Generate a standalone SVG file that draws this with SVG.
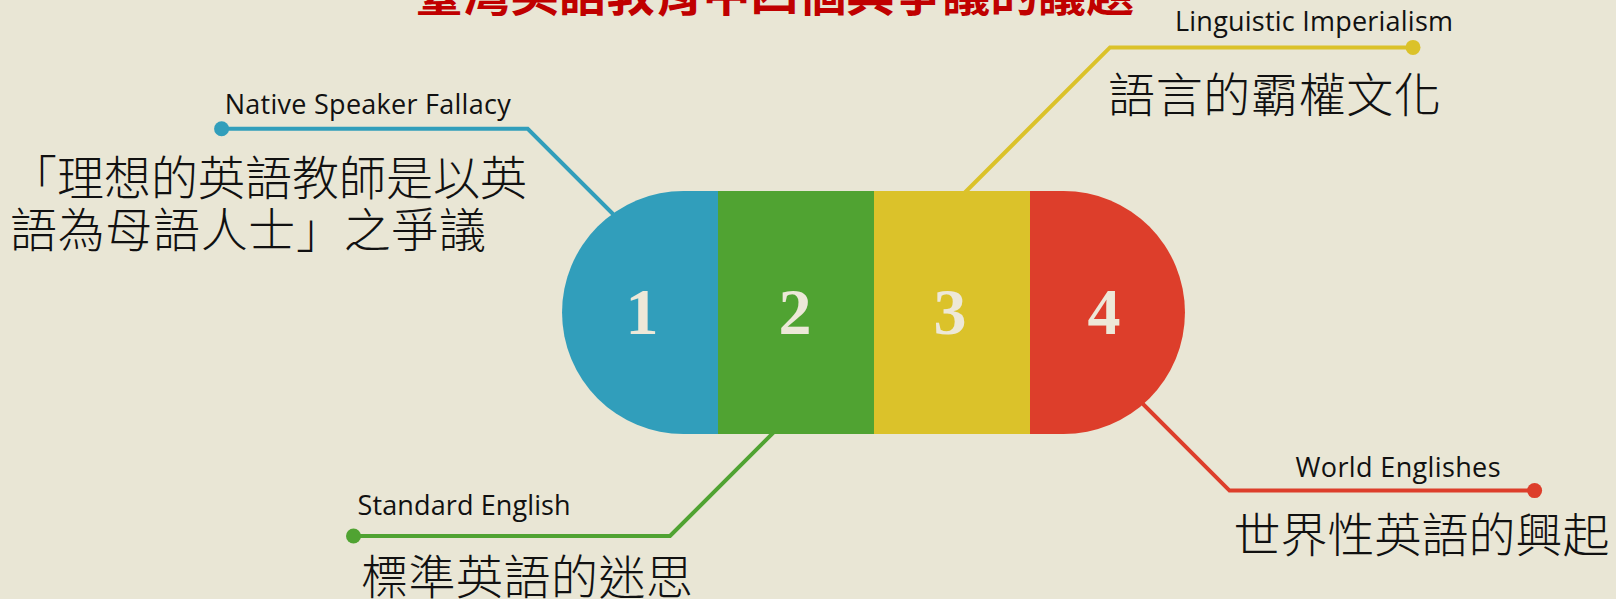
<svg xmlns="http://www.w3.org/2000/svg" width="1616" height="599" viewBox="0 0 1616 599">
<style>
.bg{fill:#E9E6D5}
.ln{fill:none;stroke-width:4;stroke-linejoin:miter}
.en{font-family:"Open Sans","Liberation Sans",sans-serif;font-size:27px;fill:#111}
.zh{font-family:"Noto Sans CJK TC","Noto Sans CJK SC",sans-serif;font-weight:300;font-size:47px;fill:#111}
.num{font-family:"Liberation Serif","DejaVu Serif",serif;font-weight:bold;font-size:66px;fill:#EDE8D8;text-anchor:middle}
.title{font-family:"Noto Sans CJK TC","Noto Sans CJK SC",sans-serif;font-weight:bold;font-size:48px;fill:#C00000}
</style>
<rect class="bg" x="0" y="0" width="1616" height="599"/>
<text class="title" x="415" y="11" textLength="719">臺灣英語教育中四個具爭議的議題</text>
<g id="connectors">
  <polyline class="ln" stroke="#319EBB" points="221.6,128.8 527.7,128.8 640,241"/>
  <circle cx="221.6" cy="128.8" r="7.5" fill="#319EBB"/>
  <polyline class="ln" stroke="#DBC22A" points="917.4,240 1110,47.4 1413,47.4"/>
  <circle cx="1413" cy="47.4" r="7.5" fill="#DBC22A"/>
  <polyline class="ln" stroke="#50A332" points="806,400 670,536 353.5,536"/>
  <circle cx="353.5" cy="536" r="7.5" fill="#50A332"/>
  <polyline class="ln" stroke="#DD3E2B" points="1110,371 1229.5,490.6 1534.6,490.6"/>
  <circle cx="1534.6" cy="490.6" r="7.5" fill="#DD3E2B"/>
</g>
<g id="node1">
  <path d="M718,191 H683.5 A121.5,121.5 0 0 0 683.5,434 H718 Z" fill="#319EBB"/>
  <text class="num" x="642" y="334">1</text>
  <text class="en" x="224.7" y="114" textLength="286">Native Speaker Fallacy</text>
  <text class="zh" x="10" y="195" textLength="517">「理想的英語教師是以英</text>
  <text class="zh" x="10" y="247" textLength="476">語為母語人士」之爭議</text>
</g>
<g id="node2">
  <rect x="718" y="191" width="156" height="243" fill="#50A332"/>
  <text class="num" x="795" y="334">2</text>
  <text class="en" x="357.6" y="515" textLength="213">Standard English</text>
  <text class="zh" x="361" y="594" textLength="332">標準英語的迷思</text>
</g>
<g id="node3">
  <rect x="874" y="191" width="156" height="243" fill="#DBC22A"/>
  <text class="num" x="950" y="334">3</text>
  <text class="en" x="1175" y="31" textLength="278">Linguistic Imperialism</text>
  <text class="zh" x="1108" y="112" textLength="333">語言的霸權文化</text>
</g>
<g id="node4">
  <path d="M1030,191 H1063.5 A121.5,121.5 0 0 1 1063.5,434 H1030 Z" fill="#DD3E2B"/>
  <text class="num" x="1104" y="334">4</text>
  <text class="en" x="1295.5" y="477" textLength="205">World Englishes</text>
  <text class="zh" x="1233.6" y="552" textLength="376">世界性英語的興起</text>
</g>
</svg>
